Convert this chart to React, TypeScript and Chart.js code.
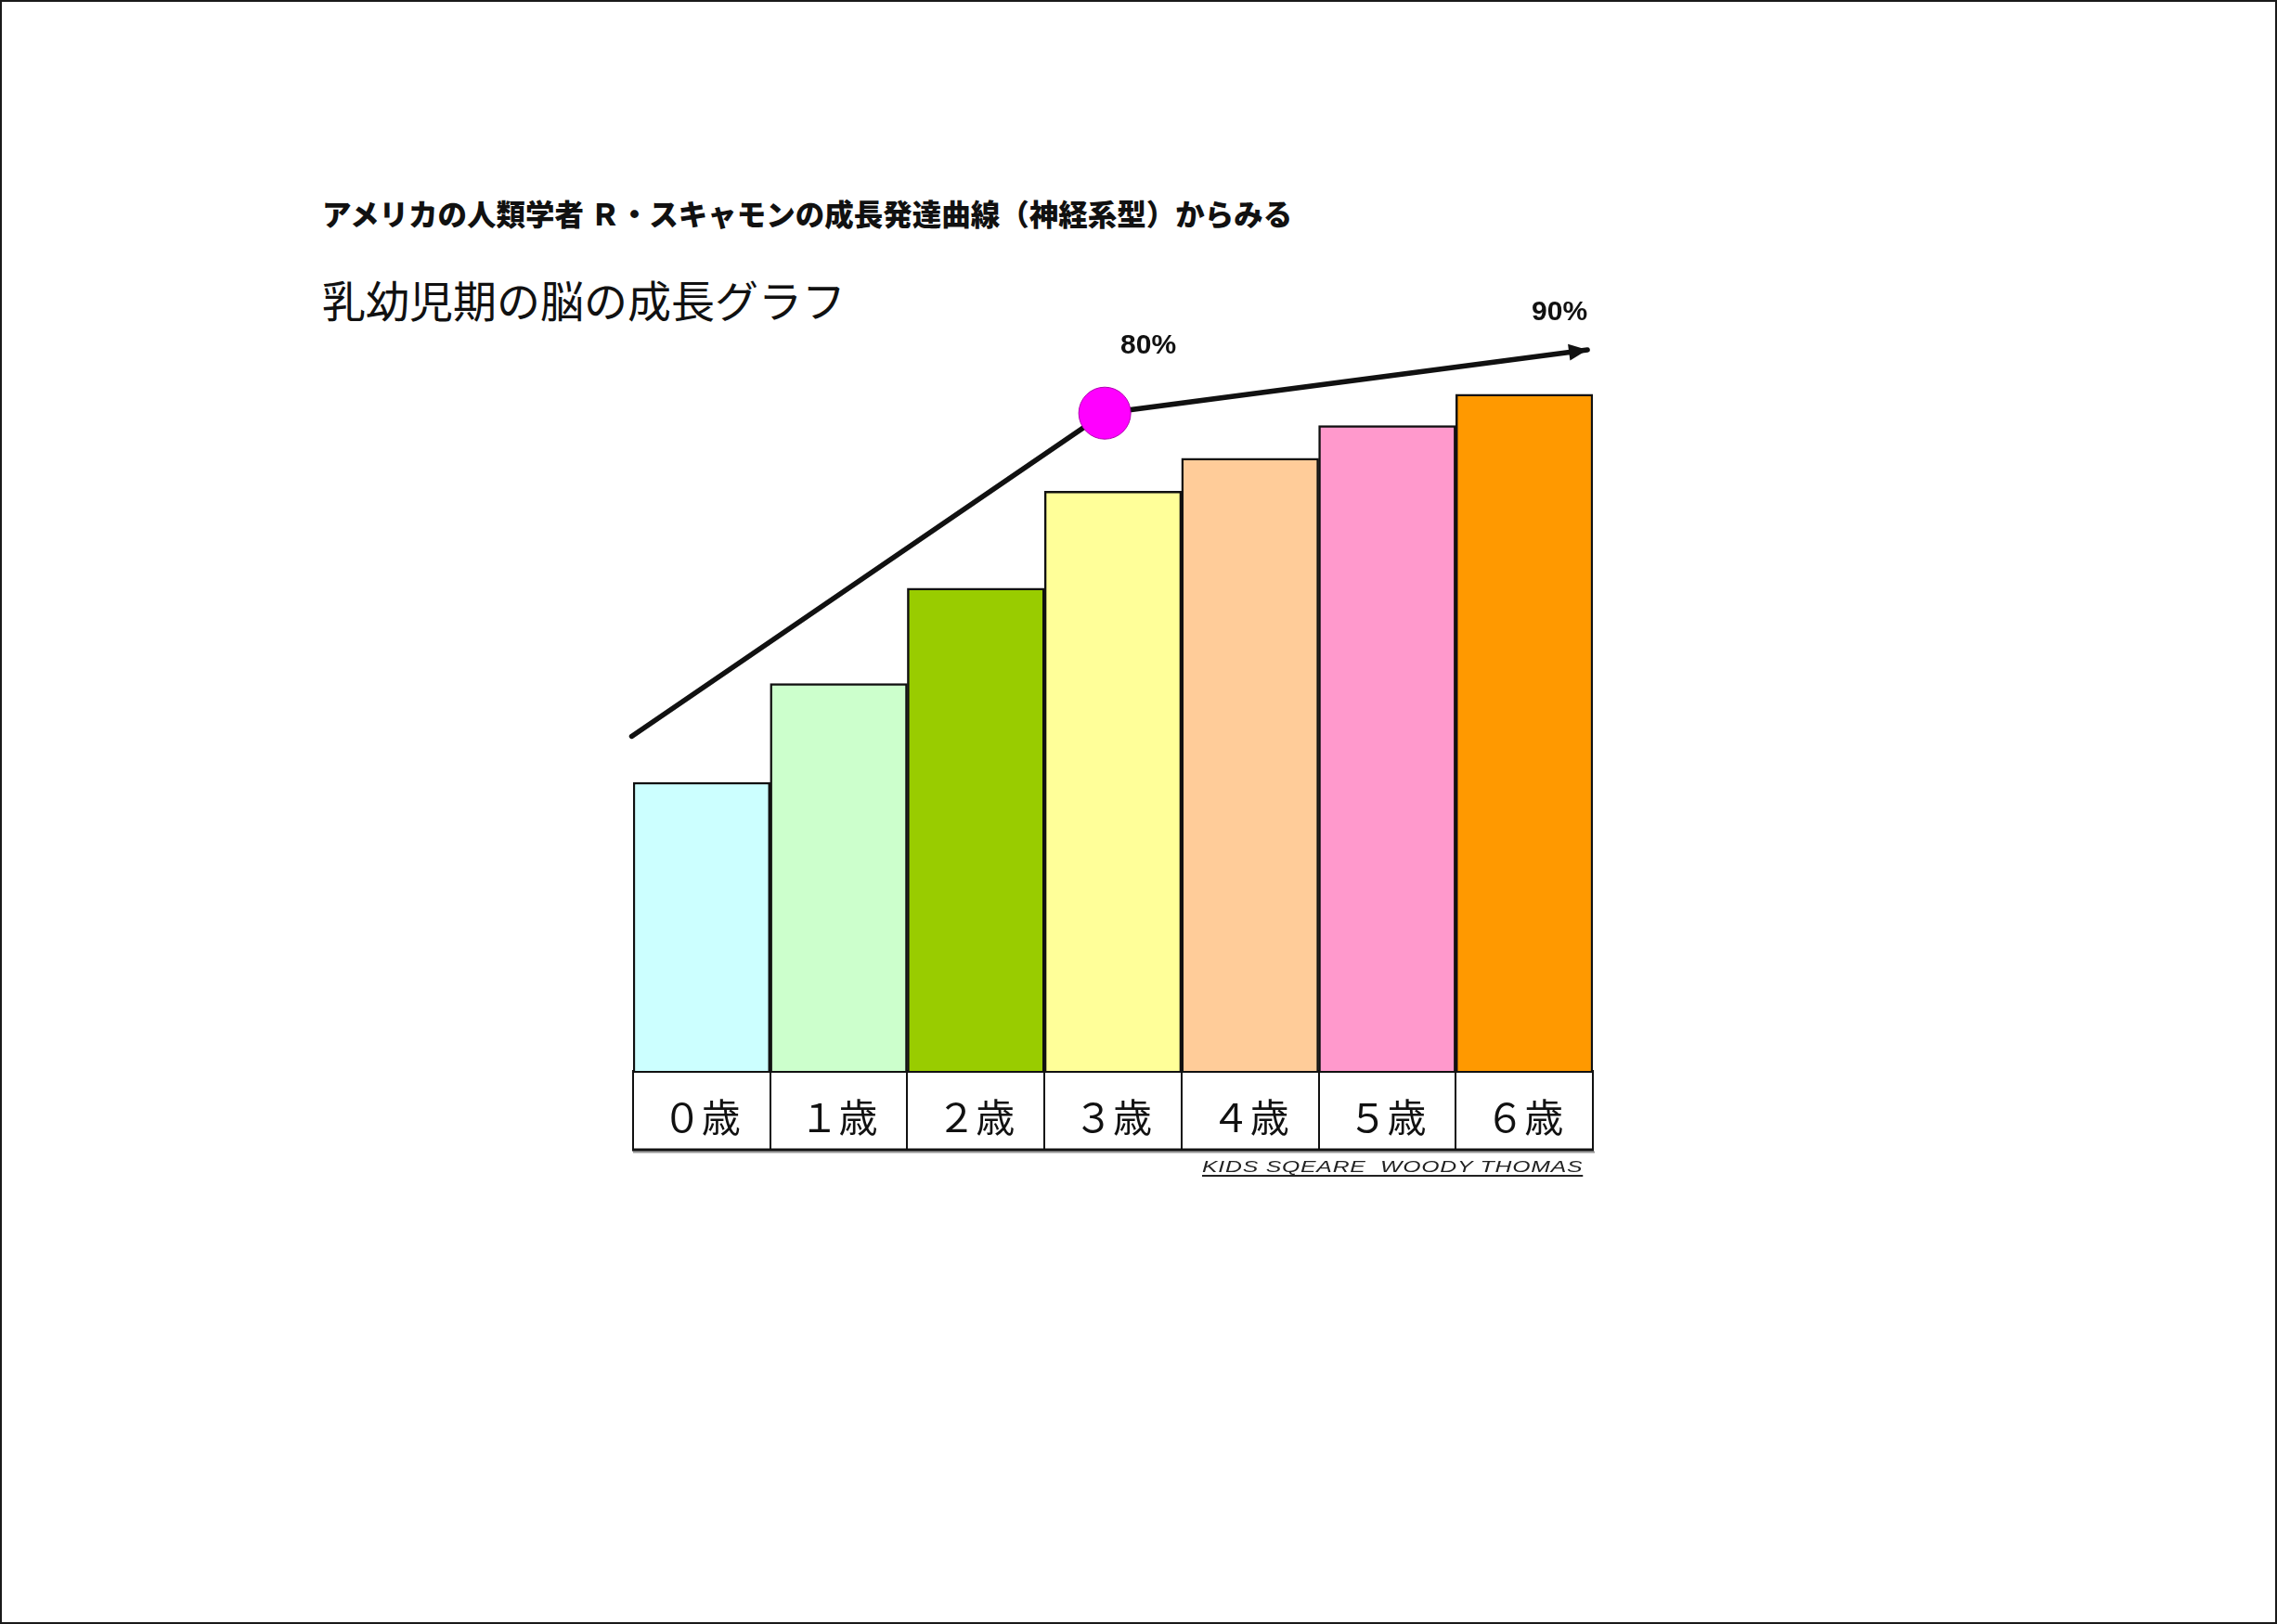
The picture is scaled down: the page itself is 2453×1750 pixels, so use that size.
import { useEffect, useRef } from "react";
import Chart from "chart.js/auto";

// 年齢ごとの脳の成長（棒の高さ、%）
const ageLabels = ["０歳", "１歳", "２歳", "３歳", "４歳", "５歳", "６歳"];
const brainGrowth = [35.1, 47.1, 58.7, 70.5, 74.5, 78.5, 82.3];
const barColors = ["#CCFFFF", "#CCFFCC", "#99CC00", "#FFFF99", "#FFCC99", "#FF99CC", "#FF9900"];

// 成長曲線（矢印）
const curveAges = [-0.51, 2.94, 6.46];
const curveLevels = [40.7, 80, 87.7];
const curveLabels = ["", "80%", "90%"];

const ROW_HEIGHT = 85;
const MARKER_INDEX = 1;
const LABEL_OFFSETS = [
  [0, 0],
  [47, -72],
  [-30, -40],
];

const tableAndArrow = {
  id: "tableAndArrow",
  afterDatasetsDraw(chart: any) {
    const { ctx } = chart;
    const pts = chart.getDatasetMeta(0).data;
    const a = pts[pts.length - 2];
    const b = pts[pts.length - 1];
    const ang = Math.atan2(b.y - a.y, b.x - a.x);
    const len = 20;
    const half = 9;
    ctx.save();
    ctx.fillStyle = "#111";
    ctx.beginPath();
    ctx.moveTo(b.x, b.y);
    ctx.lineTo(
      b.x - len * Math.cos(ang) + half * Math.sin(ang),
      b.y - len * Math.sin(ang) - half * Math.cos(ang)
    );
    ctx.lineTo(
      b.x - len * Math.cos(ang) - half * Math.sin(ang),
      b.y - len * Math.sin(ang) + half * Math.cos(ang)
    );
    ctx.closePath();
    ctx.fill();

    ctx.font = 'bold 30px "Liberation Sans", Arial, sans-serif';
    ctx.textAlign = "center";
    ctx.textBaseline = "middle";
    curveLabels.forEach((t, i) => {
      if (!t) return;
      const p = pts[i];
      ctx.fillText(t, p.x + LABEL_OFFSETS[i][0], p.y + LABEL_OFFSETS[i][1]);
    });
    ctx.restore();
  },
  afterDraw(chart: any) {
    // 年齢表の下枠
    const { ctx } = chart;
    const x = chart.scales.x;
    const y = x.top + ROW_HEIGHT;
    ctx.save();
    ctx.strokeStyle = "#999";
    ctx.lineWidth = 2;
    ctx.beginPath();
    ctx.moveTo(x.left, y + 2.5);
    ctx.lineTo(x.right + 2, y + 2.5);
    ctx.stroke();
    ctx.strokeStyle = "#111";
    ctx.lineWidth = 3;
    ctx.beginPath();
    ctx.moveTo(x.left - 1, y);
    ctx.lineTo(x.right + 1, y);
    ctx.stroke();
    ctx.restore();
  },
};

const GrowthChart = () => {
  const canvasRef = useRef<HTMLCanvasElement | null>(null);

  useEffect(() => {
    const ctx = canvasRef.current?.getContext("2d");
    if (!ctx) return;

    const chart = new Chart(ctx, {
      type: "bar",
      data: {
        labels: ageLabels,
        datasets: [
          {
            type: "line",
            data: curveAges.map((x, i) => ({ x, y: curveLevels[i] })),
            xAxisID: "xCurve",
            borderColor: "#111",
            borderWidth: 5.5,
            borderCapStyle: "round",
            tension: 0,
            clip: false,
            order: 0,
            pointRadius: (c: any) => (c.dataIndex === MARKER_INDEX ? 28 : 0),
            pointBackgroundColor: "#FF00FF",
            pointBorderColor: "#B000B0",
            pointBorderWidth: 1,
          } as any,
          {
            type: "bar",
            data: brainGrowth,
            backgroundColor: barColors,
            borderColor: "#111",
            borderWidth: 2.5,
            categoryPercentage: 1,
            barPercentage: 1,
            grouped: false,
            order: 1,
          },
        ],
      },
      options: {
        animation: false,
        responsive: true,
        maintainAspectRatio: false,
        events: [],
        layout: { padding: { left: 20, right: 20, top: 40, bottom: 18 } },
        plugins: {
          legend: { display: false },
          tooltip: { enabled: false },
        },
        scales: {
          x: {
            type: "category",
            offset: true,
            grid: {
              offset: true,
              drawOnChartArea: false,
              drawTicks: true,
              tickLength: ROW_HEIGHT,
              color: "#111",
              lineWidth: 2,
            },
            border: { display: true, color: "#111", width: 3 },
            ticks: {
              color: "#111",
              font: { family: '"Liberation Serif", "Noto Sans CJK JP", serif', size: 42 },
              padding: -55,
              autoSkip: false,
              maxRotation: 0,
            },
            afterFit: (s: any) => {
              s.height = ROW_HEIGHT;
            },
          },
          xCurve: {
            type: "linear",
            display: false,
            offset: false,
            grid: { offset: false },
            min: -0.5,
            max: 6.5,
          },
          y: { display: false, min: 0, max: 100 },
        },
      } as any,
      plugins: [tableAndArrow],
    });

    return () => {
      chart.destroy();
    };
  }, []);

  return (
    <div style={{ position: "absolute", left: 662, top: 228, width: 1074, height: 1029 }}>
      <canvas ref={canvasRef}></canvas>
    </div>
  );
};

export default function App() {
  return (
    <div
      style={{
        position: "absolute",
        left: 0,
        top: 0,
        width: 2453,
        height: 1750,
        background: "#fff",
        overflow: "hidden",
        fontFamily: '"Noto Sans CJK JP", sans-serif',
        color: "#111",
      }}
    >
      <div
        style={{
          position: "absolute",
          inset: 0,
          border: "2px solid #1a1a1a",
          pointerEvents: "none",
        }}
      />
      <div
        style={{
          position: "absolute",
          left: 347,
          top: 214,
          fontSize: 31.5,
          fontWeight: 900,
          lineHeight: 1,
          whiteSpace: "pre",
        }}
      >
        アメリカの人類学者 Ｒ・スキャモンの成長発達曲線（神経系型）からみる
      </div>
      <div
        style={{
          position: "absolute",
          left: 347,
          top: 298,
          fontSize: 47,
          fontWeight: 400,
          lineHeight: 1,
          whiteSpace: "pre",
        }}
      >
        乳幼児期の脳の成長グラフ
      </div>
      <GrowthChart />
      <div
        style={{
          position: "absolute",
          left: 1295,
          top: 1250,
          fontFamily: '"Liberation Sans", Arial, sans-serif',
          fontStyle: "italic",
          fontSize: 16,
          lineHeight: 1,
          whiteSpace: "pre",
          color: "#222",
          letterSpacing: 0.5,
          textDecoration: "underline",
          textDecorationThickness: 2,
          textUnderlineOffset: 3,
          transform: "scaleX(1.55)",
          transformOrigin: "left top",
        }}
      >
        KIDS SQEARE  WOODY THOMAS
      </div>
    </div>
  );
}
